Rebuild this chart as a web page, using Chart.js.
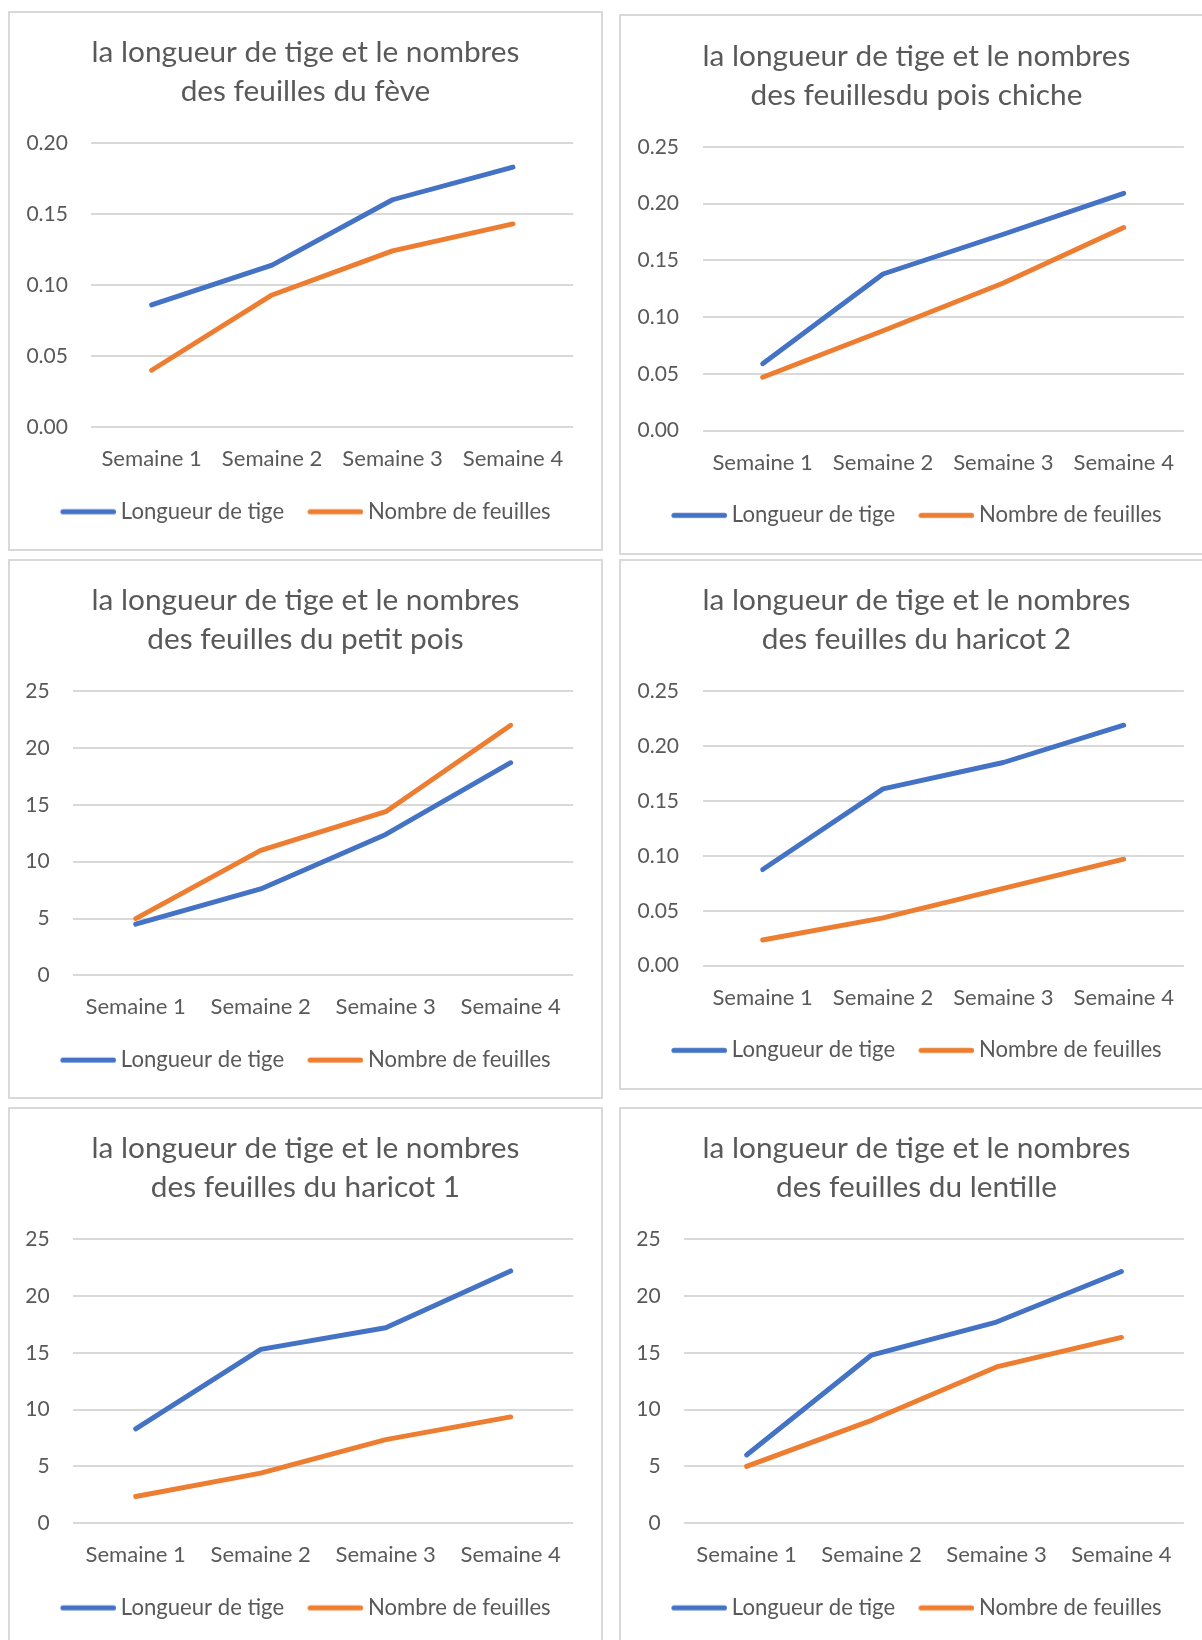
<!DOCTYPE html>
<html>
<head>
<meta charset="utf-8">
<script src="https://cdn.jsdelivr.net/npm/chart.js@4.4.1/dist/chart.umd.min.js"></script>
<style>
html,body{margin:0;padding:0;background:#ffffff;}
body{width:1202px;height:1640px;overflow:hidden;position:relative;}
.panel{position:absolute;box-sizing:border-box;border:2px solid #d9d9d9;background:#ffffff;}
.panel canvas{position:absolute;left:0;top:0;}
</style>
</head>
<body>
<div id="p1" class="panel"><canvas></canvas></div>
<div id="p2" class="panel"><canvas></canvas></div>
<div id="p3" class="panel"><canvas></canvas></div>
<div id="p4" class="panel"><canvas></canvas></div>
<div id="p5" class="panel"><canvas></canvas></div>
<div id="p6" class="panel"><canvas></canvas></div>
<script>
// ---------------- DATA ----------------
const categories = ['Semaine 1', 'Semaine 2', 'Semaine 3', 'Semaine 4'];
const seriesNames = ['Longueur de tige', 'Nombre de feuilles'];
const titleTop = 'la longueur de tige et le nombres';

const feveTitle = 'des feuilles du fève';
const feveLongueur = [0.086, 0.114, 0.160, 0.183];
const feveFeuilles = [0.040, 0.093, 0.124, 0.143];
const feveTicks = ['0.00', '0.05', '0.10', '0.15', '0.20'];

const poisChicheTitle = 'des feuillesdu pois chiche';
const poisChicheLongueur = [0.059, 0.138, 0.173, 0.209];
const poisChicheFeuilles = [0.047, 0.088, 0.130, 0.179];
const poisChicheTicks = ['0.00', '0.05', '0.10', '0.15', '0.20', '0.25'];

const petitPoisTitle = 'des feuilles du petit pois';
const petitPoisLongueur = [4.5, 7.6, 12.4, 18.7];
const petitPoisFeuilles = [5.0, 11.0, 14.4, 22.0];
const petitPoisTicks = ['0', '5', '10', '15', '20', '25'];

const haricot2Title = 'des feuilles du haricot 2';
const haricot2Longueur = [0.0875, 0.161, 0.185, 0.219];
const haricot2Feuilles = [0.0234, 0.0436, 0.0705, 0.097];
const haricot2Ticks = ['0.00', '0.05', '0.10', '0.15', '0.20', '0.25'];

const haricot1Title = 'des feuilles du haricot 1';
const haricot1Longueur = [8.3, 15.3, 17.2, 22.2];
const haricot1Feuilles = [2.35, 4.4, 7.35, 9.35];
const haricot1Ticks = ['0', '5', '10', '15', '20', '25'];

const lentilleTitle = 'des feuilles du lentille';
const lentilleLongueur = [6.0, 14.8, 17.7, 22.15];
const lentilleFeuilles = [5.0, 9.05, 13.75, 16.35];
const lentilleTicks = ['0', '5', '10', '15', '20', '25'];

// ---------------- STYLE / LAYOUT ----------------
const FONT = 'Lato';
const TEXT = '#595959';
const GRID = '#d9d9d9';
const BLUE = '#4472C4';
const ORANGE = '#ED7D31';
const LINE_W = 4.9;

const mctx = document.createElement('canvas').getContext('2d');
function fitSize(text, target) {
  mctx.font = '100px ' + FONT;
  return 100 * target / mctx.measureText(text).width;
}
function midOffset(size) {
  mctx.font = size + 'px ' + FONT;
  mctx.textBaseline = 'alphabetic';
  const a = mctx.measureText('H').actualBoundingBoxAscent;
  mctx.textBaseline = 'middle';
  const m = mctx.measureText('H').actualBoundingBoxAscent;
  mctx.textBaseline = 'alphabetic';
  const d = a - m;
  return (isFinite(d) && d > 0) ? d : size * 0.36;
}

const titleSize = fitSize(titleTop, 428);
const xTickSize = fitSize('Semaine 1', 100.5);
const yTickSize = fitSize('0.20', 41.5);
const legendSize = (fitSize(seriesNames[0], 162.5) + fitSize(seriesNames[1], 183.6)) / 2;
const offT = midOffset(titleSize), offS = midOffset(xTickSize), offL = midOffset(legendSize);

const TITLE_LH = 39;
const TITLE_BASE1 = 81;     // first title baseline above plot top
const CAT_BASE = 39;        // category baseline below plot bottom
const LEG_BASE = 91.5;      // legend text baseline below plot bottom
const LEG_LINE = 84.6;      // legend line centre below plot bottom
const LEG_LINE_LEN = 55.6;
const LEG_TEXT_GAP = 4.9;
const LEG_ITEM_GAP = 23.4;
const Y_LABEL_GAP = 23.5;

// legend box: line starts exactly at the item start, text follows after a small gap
const legBoxW = LEG_LINE_LEN + LEG_TEXT_GAP - legendSize / 2;
function legendLine(color) {
  const c = document.createElement('canvas');
  const w = 2 * (LEG_LINE_LEN - legBoxW / 2);
  c.width = Math.round(w); c.height = 24;
  const x0 = c.width - LEG_LINE_LEN;
  const g = c.getContext('2d');
  const cy = 12 + (LEG_LINE - (LEG_BASE - offL));
  g.strokeStyle = color; g.lineWidth = 5.2; g.lineCap = 'round';
  g.beginPath(); g.moveTo(x0 + 2.6, cy); g.lineTo(c.width - 2.6, cy); g.stroke();
  return c;
}
const blueImg = legendLine(BLUE);
const orangeImg = legendLine(ORANGE);

function makeChart(id, box, plot, sub, longueur, feuilles, tickLabels) {
  const el = document.getElementById(id);
  el.style.left = box.x + 'px'; el.style.top = box.y + 'px';
  el.style.width = box.w + 'px'; el.style.height = box.h + 'px';
  const Wc = box.w - 4, Hc = box.h - 4;
  const cv = el.querySelector('canvas');
  cv.width = Wc; cv.height = Hc;
  cv.style.width = Wc + 'px'; cv.style.height = Hc + 'px';
  const ox = box.x + 2, oy = box.y + 2;
  const pl = plot.l - ox, pr = plot.r - ox, pt = plot.t - oy, pb = plot.b - oy;

  const tPadTop = pt - TITLE_BASE1 - offT - TITLE_LH / 2;
  const tPadBottom = pt - tPadTop - 2 * TITLE_LH;
  const xLH = xTickSize * 1.2;
  const xPad = CAT_BASE - offS - xLH / 2;
  const legPad = LEG_ITEM_GAP;
  const xh = LEG_BASE - offL - legPad - legendSize / 2;
  const lpb = Hc - pb - xh - legendSize - legPad - 10;
  const tickValues = tickLabels.map(parseFloat);

  return new Chart(cv, {
    type: 'line',
    data: {
      labels: categories,
      datasets: [
        {label: seriesNames[0], data: longueur, borderColor: BLUE, backgroundColor: BLUE,
         borderWidth: LINE_W, pointRadius: 0, pointHoverRadius: 0, pointStyle: blueImg,
         borderCapStyle: 'round', borderJoinStyle: 'round', tension: 0, fill: false, order: 1},
        {label: seriesNames[1], data: feuilles, borderColor: ORANGE, backgroundColor: ORANGE,
         borderWidth: LINE_W, pointRadius: 0, pointHoverRadius: 0, pointStyle: orangeImg,
         borderCapStyle: 'round', borderJoinStyle: 'round', tension: 0, fill: false, order: 0}
      ]
    },
    options: {
      responsive: false, animation: false, devicePixelRatio: 1, events: [],
      layout: {padding: {top: 0, left: 0, right: 0, bottom: lpb}},
      plugins: {
        tooltip: {enabled: false},
        title: {
          display: true, text: [titleTop, sub], color: TEXT,
          font: {family: FONT, size: titleSize, weight: 'normal', lineHeight: TITLE_LH + 'px'},
          padding: {top: tPadTop, bottom: tPadBottom}
        },
        legend: {
          display: true, position: 'bottom', align: 'center',
          labels: {
            usePointStyle: true, pointStyleWidth: legBoxW, padding: legPad, color: TEXT,
            font: {family: FONT, size: legendSize},
            sort: (a, b) => a.datasetIndex - b.datasetIndex
          }
        }
      },
      scales: {
        x: {
          type: 'category', offset: true,
          grid: {display: false, drawTicks: false}, border: {display: false},
          ticks: {color: TEXT, font: {family: FONT, size: xTickSize, lineHeight: 1.2},
                  padding: xPad, maxRotation: 0, autoSkip: false},
          afterFit: (s) => { s.height = xh; }
        },
        y: {
          type: 'linear', position: 'left',
          min: tickValues[0], max: tickValues[tickValues.length - 1],
          afterBuildTicks: (s) => { s.ticks = tickValues.map(v => ({value: v})); },
          grid: {color: GRID, lineWidth: 2, drawTicks: false}, border: {display: false},
          ticks: {color: TEXT, font: {family: FONT, size: yTickSize}, padding: Y_LABEL_GAP,
                  callback: (v, i) => tickLabels[i]},
          afterFit: (s) => { s.width = pl; }
        },
        yR: {
          type: 'linear', position: 'right', display: true,
          grid: {display: false}, border: {display: false}, ticks: {display: false},
          afterFit: (s) => { s.width = Wc - pr; }
        }
      }
    }
  });
}

makeChart('p1', {x: 8, y: 11, w: 595, h: 540}, {l: 91.4, r: 573.2, t: 142.9, b: 427.1},
  feveTitle, feveLongueur, feveFeuilles, feveTicks);
makeChart('p2', {x: 619, y: 14, w: 595, h: 541}, {l: 702.5, r: 1183.9, t: 146.8, b: 430.7},
  poisChicheTitle, poisChicheLongueur, poisChicheFeuilles, poisChicheTicks);
makeChart('p3', {x: 8, y: 559, w: 595, h: 540}, {l: 73.2, r: 573.2, t: 691.1, b: 975.4},
  petitPoisTitle, petitPoisLongueur, petitPoisFeuilles, petitPoisTicks);
makeChart('p4', {x: 619, y: 559, w: 595, h: 531}, {l: 702.5, r: 1183.9, t: 691.1, b: 965.7},
  haricot2Title, haricot2Longueur, haricot2Feuilles, haricot2Ticks);
makeChart('p5', {x: 8, y: 1107, w: 595, h: 540}, {l: 73.2, r: 573.2, t: 1239.1, b: 1523.2},
  haricot1Title, haricot1Longueur, haricot1Feuilles, haricot1Ticks);
makeChart('p6', {x: 619, y: 1107, w: 595, h: 540}, {l: 684.1, r: 1183.9, t: 1239.1, b: 1523.2},
  lentilleTitle, lentilleLongueur, lentilleFeuilles, lentilleTicks);
</script>
</body>
</html>
